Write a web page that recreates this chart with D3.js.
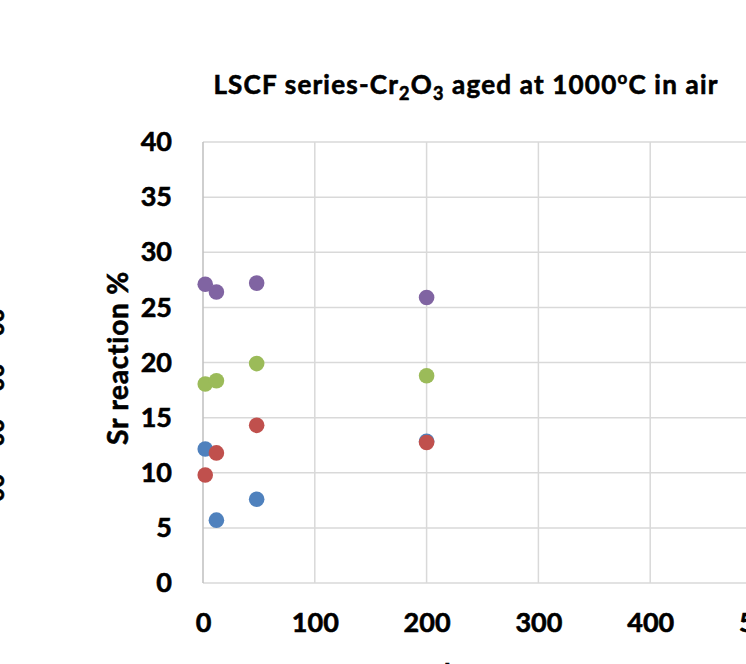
<!DOCTYPE html>
<html><head><meta charset="utf-8">
<script src="https://cdn.jsdelivr.net/npm/d3@7"></script>
<style>body{margin:0;background:#fff;} svg{display:block;font-family:Lato,"Open Sans",sans-serif;}</style>
</head><body>
<svg id="c" width="746" height="664"></svg>
<script>
const xTicks = [0, 100, 200, 300, 400, 500];
const yTicks = [0, 5, 10, 15, 20, 25, 30, 35, 40];
const hours = [2, 12, 48, 200];
const blueVals = [12.15, 5.7, 7.6, 12.85];
const redVals = [9.8, 11.8, 14.3, 12.75];
const greenVals = [18.05, 18.35, 19.9, 18.8];
const purpleVals = [27.1, 26.4, 27.2, 25.9];
const colors = ["#4f81bd", "#c0504d", "#9bbb59", "#8064a2"];
const edgeLabels = ["00", "00", "00", "00"];
const edgeLabelVals = [25, 20, 15, 10];

const svg = d3.select("#c");
const x = d3.scaleLinear().domain([0, 500]).range([203, 762]);
const y = d3.scaleLinear().domain([0, 40]).range([583, 142]);

const bold = sel => sel.attr("font-weight", "bold").attr("fill", "#000")
  .attr("stroke", "#000").attr("stroke-width", 0.6).attr("font-family", "Lato,sans-serif");

// gridlines
svg.append("g").selectAll("line").data(yTicks).join("line")
  .attr("x1", 203).attr("x2", 762).attr("y1", d => y(d)).attr("y2", d => y(d))
  .attr("stroke", "#d9d9d9").attr("stroke-width", 1.5);
svg.append("g").selectAll("line").data(xTicks.slice(1)).join("line")
  .attr("y1", 142).attr("y2", 583).attr("x1", d => x(d)).attr("x2", d => x(d))
  .attr("stroke", "#d9d9d9").attr("stroke-width", 1.5);
svg.append("line").attr("x1", 203).attr("x2", 203).attr("y1", 142).attr("y2", 583)
  .attr("stroke", "#bfbfbf").attr("stroke-width", 1.5);

// y axis
const yAxis = d3.axisLeft(y).tickValues(yTicks).tickSize(0).tickPadding(31);
const gy = svg.append("g").attr("transform", "translate(203,0)").call(yAxis);
gy.select(".domain").remove();
gy.selectAll("text").attr("font-size", 27).call(bold);

// x axis
const xAxis = d3.axisBottom(x).tickValues(xTicks).tickSize(0).tickPadding(30);
const gx = svg.append("g").attr("transform", "translate(0,583)").call(xAxis);
gx.select(".domain").remove();
gx.selectAll("text").attr("font-size", 27).call(bold);

// series
const all = [blueVals, redVals, greenVals, purpleVals];
all.forEach((vals, i) => {
  svg.append("g").selectAll("circle").data(vals.map((v, j) => [hours[j], v])).join("circle")
    .attr("cx", d => x(d[0])).attr("cy", d => y(d[1])).attr("r", 7.8)
    .attr("fill", colors[i]);
});

// title
const t = svg.append("text").attr("x", 466).attr("y", 94).attr("text-anchor", "middle")
  .attr("font-size", 26).attr("letter-spacing", 1.2).call(bold);
t.append("tspan").text("LSCF series-Cr");
t.append("tspan").text("2").attr("font-size", 18).attr("dy", 6);
t.append("tspan").text("O").attr("dy", -6);
t.append("tspan").text("3").attr("font-size", 18).attr("dy", 6);
t.append("tspan").text(" aged at 1000").attr("dy", -6);
t.append("tspan").text("o").attr("font-size", 17).attr("dy", -10);
t.append("tspan").text("C in air").attr("dy", 10);

// y axis title
svg.append("text").attr("transform", `translate(128,${358}) rotate(-90)`)
  .attr("text-anchor", "middle").attr("font-size", 28).attr("letter-spacing", 0.8)
  .call(bold).text("Sr reaction %");

// x axis title (mostly cut off)
svg.append("text").attr("x", 478).attr("y", 683).attr("text-anchor", "middle")
  .attr("font-size", 27).call(bold).text("hours");

// partially visible labels at the left edge
svg.append("g").selectAll("text").data(edgeLabelVals).join("text")
  .attr("transform", d => `translate(4,${y(d) + 15}) rotate(-90)`)
  .attr("text-anchor", "middle").attr("font-size", 24).call(bold)
  .text((d, i) => edgeLabels[i]);
</script>
</body></html>
